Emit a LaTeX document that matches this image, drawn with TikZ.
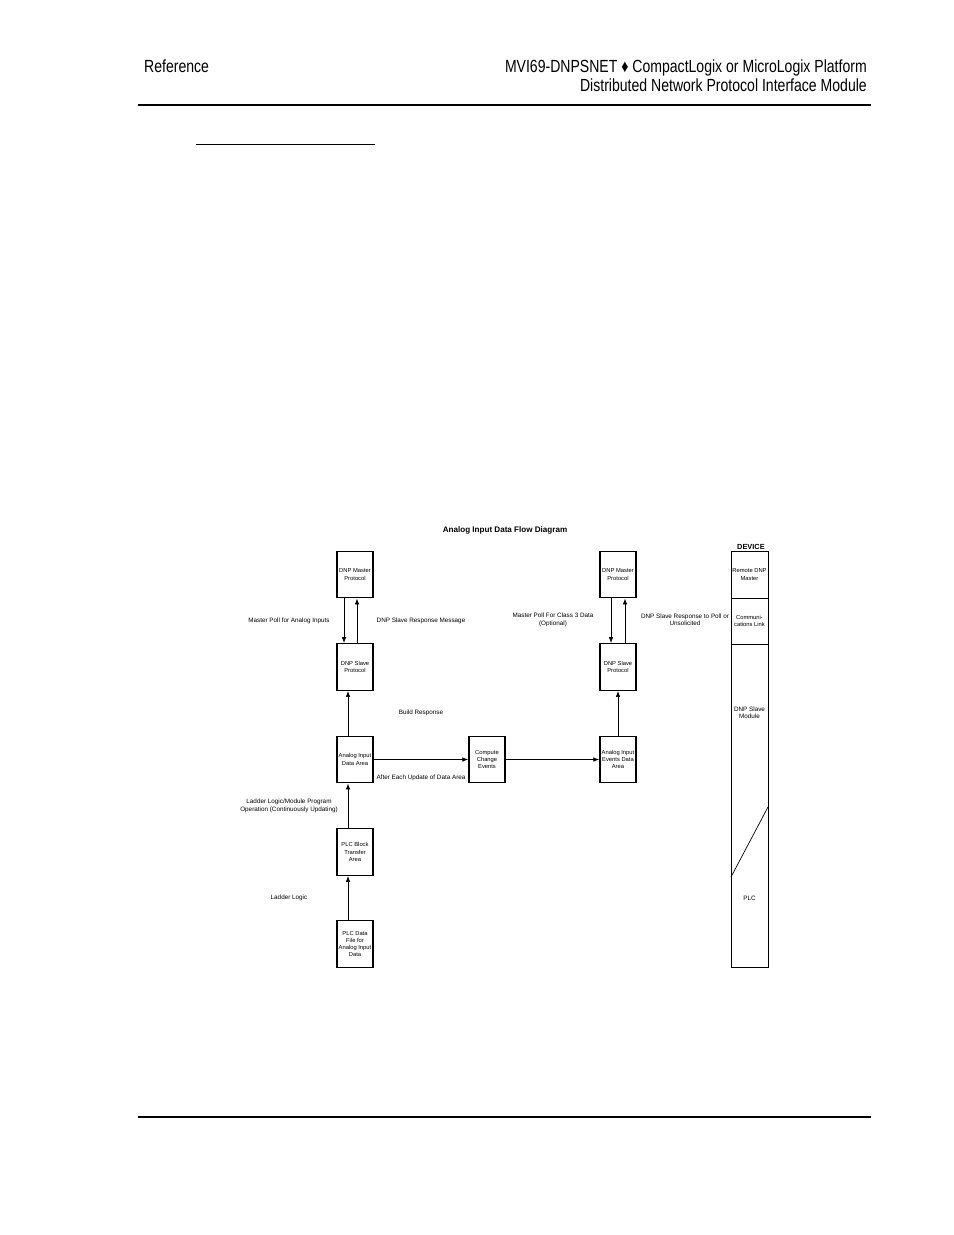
\documentclass[tikz,border=0pt]{standalone}
\usepackage{fontspec}
\setmainfont{Liberation Sans}
\newfontfamily\narrowfont{Liberation Sans}[FakeStretch=0.80]
\usetikzlibrary{positioning,arrows.meta}

\tikzset{
    blockbox/.style={draw, thick, minimum width=0.72cm, minimum height=0.93cm, inner sep=0pt, align=center, font=\fontsize{3.3}{4.1}\selectfont},
    flowlabel/.style={align=center, font=\fontsize{3.6}{4.2}\selectfont},
    flow/.style={-{Latex[length=1.2mm,width=0.9mm]}, thin}
}

\begin{document}
\begin{tikzpicture}[x=0.02cm, y=-0.02cm]

        \useasboundingbox (0,0) rectangle (954,1235);

        % page header
        \node[anchor=base west, font=\narrowfont\fontsize{10}{12}\selectfont] (hdl) at (138,72) {Reference};
        \node[anchor=base east, font=\narrowfont\fontsize{10}{12}\selectfont] (hdr1) at (873,72) {MVI69-DNPSNET \char"2666{} CompactLogix or MicroLogix Platform};
        \node[anchor=base east, font=\narrowfont\fontsize{10}{12}\selectfont] (hdr2) at (873,91) {Distributed Network Protocol Interface Module};
        \path[draw, thick] (138,105) -- (871,105);
        \path[draw] (196,144) -- (375,144);
        \path[draw, thick] (138,1117) -- (871,1117);

        % diagram
        \node[font=\bfseries\fontsize{4.6}{5.5}\selectfont] (title) at (505,530) {Analog Input Data Flow Diagram};

        \node[blockbox] (mst) at (355,574.5) {DNP Master\\Protocol};
        \node[blockbox] (slv) at (355,667) {DNP Slave\\Protocol};
        \node[blockbox] (aia) at (355,759.5) {Analog Input\\Data Area};
        \node[blockbox] (pbt) at (355,852) {PLC Block\\Transfer\\Area};
        \node[blockbox] (pdf) at (355,944) {PLC Data\\File for\\Analog Input\\Data};
        \node[blockbox] (cce) at (487,759.5) {Compute\\Change\\Events};
        \node[blockbox] (mst2) at (618,574.5) {DNP Master\\Protocol};
        \node[blockbox] (slv2) at (618,667) {DNP Slave\\Protocol};
        \node[blockbox] (aie) at (618,759.5) {Analog Input\\Events Data\\Area};

        \path[draw, flow] ([xshift=-0.22cm]mst.south) -- ([xshift=-0.22cm]slv.north);
        \path[draw, flow] ([xshift=0.04cm]slv.north) -- ([xshift=0.04cm]mst.south);
        \path[draw, flow] ([xshift=-0.14cm]mst2.south) -- ([xshift=-0.14cm]slv2.north);
        \path[draw, flow] ([xshift=0.14cm]slv2.north) -- ([xshift=0.14cm]mst2.south);
        \path[draw, flow] ([xshift=-0.14cm]aia.north) -- ([xshift=-0.14cm]slv.south);
        \path[draw, flow] ([xshift=-0.14cm]pbt.north) -- ([xshift=-0.14cm]aia.south);
        \path[draw, flow] ([xshift=-0.14cm]pdf.north) -- ([xshift=-0.14cm]pbt.south);
        \path[draw, flow] (aia) -- (cce);
        \path[draw, flow] (cce) -- (aie);
        \path[draw, flow] (aie) -- (slv2);

        \node[flowlabel] (lpoll) at (289,621) {Master Poll for Analog Inputs};
        \node[flowlabel] (lresp) at (421,621) {DNP Slave Response Message};
        \node[flowlabel] (rpoll) at (553,620) {Master Poll For Class 3 Data\\(Optional)};
        \node[flowlabel] (rresp) at (685,620) {DNP Slave Response to Poll or\\Unsolicited};
        \node[flowlabel] (build) at (421,713) {Build Response};
        \node[flowlabel] (upd) at (421,778) {After Each Update of Data Area};
        \node[flowlabel] (ladmod) at (289,806) {Ladder Logic/Module Program\\Operation (Continuously Updating)};
        \node[flowlabel] (lad) at (289,898) {Ladder Logic};

        % device column
        \node[font=\bfseries\fontsize{4.2}{5}\selectfont, anchor=west] (dev) at (731,547) {DEVICE};
        \path[draw] (731,551) rectangle (768,967);
        \path[draw] (731,598) -- (768,598);
        \path[draw] (731,644) -- (768,644);
        \path[draw] (731,877) -- (768,807);
        \node[flowlabel, font=\fontsize{3.3}{4.1}\selectfont] (remote) at (749.5,574.5) {Remote DNP\\Master};
        \node[flowlabel, font=\fontsize{3.3}{4.1}\selectfont] (comm) at (749.5,621) {Communi-\\cations Link};
        \node[flowlabel] (dsm) at (749.5,713) {DNP Slave\\Module};
        \node[flowlabel] (plc) at (749.5,898) {PLC};

    \end{tikzpicture}
\end{document}
